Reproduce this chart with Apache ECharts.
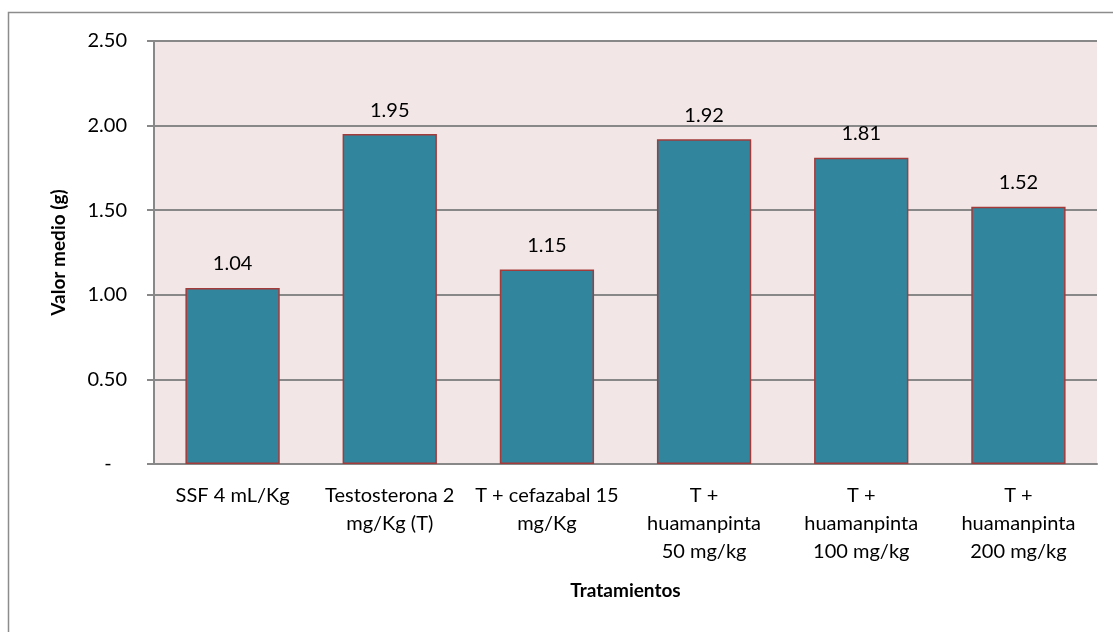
<!DOCTYPE html>
<html>
<head>
<meta charset="utf-8">
<script src="https://cdn.jsdelivr.net/npm/echarts@6/dist/echarts.min.js"></script>
<style>
  html, body { margin: 0; padding: 0; background: #fff; }
  #chart { width: 1113px; height: 632px; }
</style>
</head>
<body>
<div id="chart"></div>
<script>
  // datos del grafico
  var categorias = [
    'SSF 4 mL/Kg',
    'Testosterona 2\nmg/Kg (T)',
    'T + cefazabal 15\nmg/Kg',
    'T +\nhuamanpinta\n50 mg/kg',
    'T +\nhuamanpinta\n100 mg/kg',
    'T +\nhuamanpinta\n200 mg/kg'
  ];
  var valores = [1.04, 1.95, 1.15, 1.92, 1.81, 1.52];
  var ejeY = { min: 0, max: 2.5, interval: 0.5 };

  var fuente = 'Lato, "Open Sans", sans-serif';
  var myChart = echarts.init(document.getElementById('chart'));
  var option = {
    animation: false,
    textStyle: { fontFamily: fuente },
    graphic: [
      {
        type: 'rect',
        shape: { x: 8.5, y: 12.5, width: 1130, height: 650 },
        style: { fill: 'none', stroke: '#8c8c8c', lineWidth: 1.5 },
        z: -10
      }
    ],
    grid: { left: 154, right: 16, top: 41, bottom: 168, backgroundColor: '#F2E6E6', show: true, borderWidth: 0 },
    xAxis: {
      type: 'category',
      data: categorias,
      name: 'Tratamientos',
      nameLocation: 'middle',
      nameGap: 117,
      nameTextStyle: { fontSize: 19, fontWeight: 'bold', color: '#000', fontFamily: fuente },
      axisLine: { lineStyle: { color: '#888', width: 2 } },
      axisTick: { show: false },
      axisLabel: { color: '#000', fontSize: 20, lineHeight: 28, margin: 18, interval: 0, fontFamily: fuente }
    },
    yAxis: {
      type: 'value',
      min: ejeY.min,
      max: ejeY.max,
      interval: ejeY.interval,
      name: 'Valor medio (g)',
      nameLocation: 'middle',
      nameGap: 86,
      nameTextStyle: { fontSize: 19, fontWeight: 'bold', color: '#000', fontFamily: fuente },
      axisLine: { show: true, lineStyle: { color: '#888', width: 2 } },
      axisTick: { show: true, length: 7, lineStyle: { color: '#888', width: 2 } },
      splitLine: { lineStyle: { color: '#888', width: 2 } },
      axisLabel: {
        color: '#000', fontSize: 20, margin: 27, fontFamily: fuente,
        formatter: function (v) { return v === 0 ? '-   ' : v.toFixed(2); }
      }
    },
    series: [
      {
        type: 'bar',
        data: valores,
        barWidth: '60%',
        itemStyle: { color: '#31859C', borderColor: '#A33B3B', borderWidth: 1.5 },
        label: {
          show: true,
          position: 'top',
          distance: 14,
          color: '#000',
          fontSize: 20,
          fontFamily: fuente,
          formatter: function (p) { return p.value.toFixed(2); }
        }
      }
    ]
  };
  myChart.setOption(option, true);
</script>
</body>
</html>
